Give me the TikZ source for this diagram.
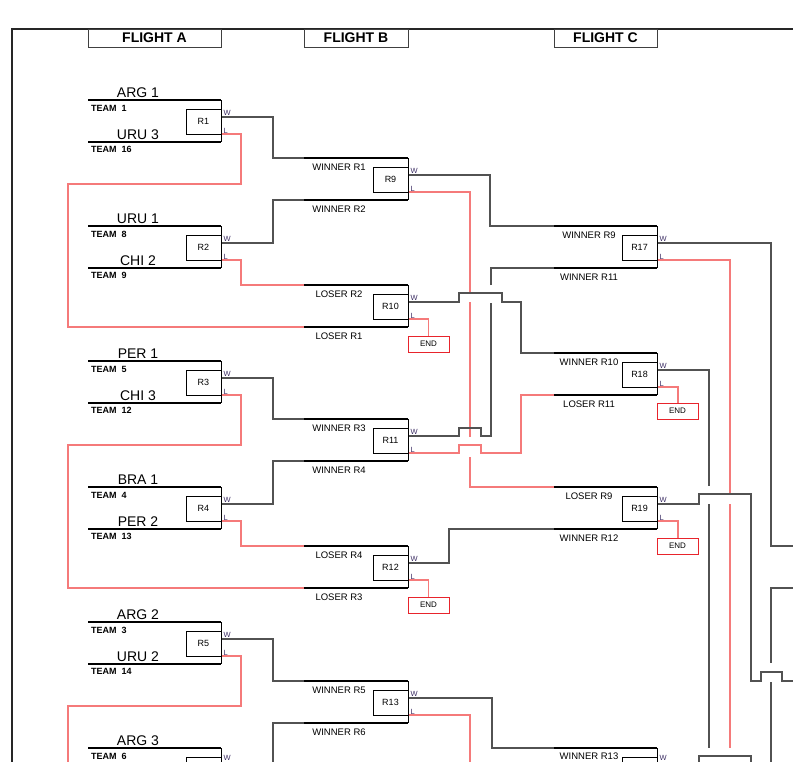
\documentclass[tikz,border=0pt]{standalone}
\usepackage{fontspec}
\setmainfont{Liberation Sans}
\definecolor{lred}{RGB}{245,122,122}
\definecolor{endred}{RGB}{232,36,44}
\definecolor{wlcol}{RGB}{60,45,100}
\tikzset{
  conn/.style={draw=black!68, line width=2pt, line join=miter},
  loser/.style={draw=lred, line width=1.1pt},
  mline/.style={draw=black, line width=2pt},
  rim/.style={draw=black, line width=0.8pt},
  rbox/.style={draw=black, line width=0.8pt, fill=white, inner sep=0pt, outer sep=0pt, minimum width=35pt, minimum height=25pt, font=\fontsize{9}{9}\selectfont},
  wl/.style={inner sep=0pt, font=\fontsize{7.5}{7.5}\selectfont, text=wlcol},
  endbox/.style={draw=endred, line width=1pt, fill=white, inner sep=0pt, outer sep=0pt, minimum width=41pt, minimum height=16pt, font=\fontsize{8}{8}\selectfont},
  tname/.style={inner sep=0pt, font=\fontsize{14}{14}\selectfont},
  tnum/.style={inner sep=0pt, font=\bfseries\fontsize{9}{9}\selectfont},
  mlab/.style={inner sep=0pt, font=\fontsize{9.5}{9.5}\selectfont},
  flight/.style={draw=black!75, line width=0.8pt, fill=white, inner sep=0pt, outer sep=0pt, minimum height=18pt, font=\bfseries\fontsize{14}{14}\selectfont},
}
% match lines and box: #1 name, #2 x left, #3 x right, #4 y top line, #5 label
\newcommand\mtbase[5]{%
  \coordinate (#1-top) at (#2,#4);
  \coordinate (#1-bot) at (#2,#4+42);
  \coordinate (#1-W) at (#3,#4+17);
  \coordinate (#1-L) at (#3,#4+34);
  \draw[rim] (#3,#4) -- (#3,#4+42);
  \draw[mline] (#1-top) -- (#3,#4);
  \draw[mline] (#1-bot) -- (#3,#4+42);
  \node[rbox, anchor=north east] (#1) at (#3,#4+9) {#5};
}
\newcommand\mt[5]{%
  \mtbase{#1}{#2}{#3}{#4}{#5}
  \node[wl, anchor=base west] (#1-w) at (#3+2.5,#4+15) {W};
  \node[wl, anchor=base west] (#1-l) at (#3+2.5,#4+33) {L};
}
% labels for flight B / C: #1 name, #2 x centre, #3 y top, #4 top, #5 bottom
\newcommand\ml[5]{%
  \node[mlab, anchor=base] (#1-a) at (#2,#3+12) {#4};
  \node[mlab, anchor=base] (#1-b) at (#2,#3+54) {#5};
}
% teams of flight A
\newcommand\tm[6]{%
  \node[tname, anchor=base] (#1-n1) at (138,#2-3) {#3};
  \node[tnum, anchor=base west] (#1-t1) at (91,#2+11) {TEAM\ \ #4};
  \node[tname, anchor=base] (#1-n2) at (138,#2+39) {#5};
  \node[tnum, anchor=base west] (#1-t2) at (91,#2+52.5) {TEAM\ \ #6};
}
\begin{document}
\begin{tikzpicture}[x=1pt,y=-1pt]
\useasboundingbox (0,0) rectangle (793,761);
\clip (0,0) rectangle (793,761);
\fill[white] (0,0) rectangle (793,761);

% frame
\draw[line width=1.5pt, black!85] (12,780) -- (12,29) -- (800,29);

% ---------- losers (red) ----------
\coordinate (R1-L) at (221,134);
\coordinate (R2-L) at (221,260);
\coordinate (R3-L) at (221,395);
\coordinate (R4-L) at (221,521);
\coordinate (R5-L) at (221,656);
\coordinate (R10-bot) at (304,327);
\coordinate (R10-top) at (304,285);
\coordinate (R12-bot) at (304,588);
\coordinate (R12-top) at (304,546);
\coordinate (R19-top) at (554,487);
\coordinate (R18-bot) at (554,395);
\draw[loser] (R1-L) -| (241,184) -| (68,327) -- (R10-bot);
\draw[loser] (R2-L) -| (241,285) -- (R10-top);
\draw[loser] (R3-L) -| (241,445) -| (68,588) -- (R12-bot);
\draw[loser] (R4-L) -| (241,546) -- (R12-top);
\draw[loser] (R5-L) -| (241,706) -| (68,780);

\draw[loser] (408,192) -- (470,192) -- (470,294);
\draw[loser] (470,302) -- (470,437);
\draw[loser] (470,457) -- (470,487) -- (R19-top);
\draw[loser] (408,453) -- (459,453) -- (459,445) -- (481,445) -- (481,453) -- (521,453) -- (521,395) -- (R18-bot);
\draw[loser] (408,715) -| (470,780);
\draw[loser] (408,319) -| (428.5,336);
\draw[loser] (408,580) -| (428.5,597);

\draw[loser] (657,260) -| (730,494);
\draw[loser] (730,504) -- (730,748);
\draw[loser] (657,387) -| (678,403);
\draw[loser] (657,521) -| (678,538);

% ---------- winners (grey connectors) ----------
\coordinate (R9-top) at (304,158);
\coordinate (R9-bot) at (304,200);
\coordinate (R11-top) at (304,419);
\coordinate (R11-bot) at (304,461);
\coordinate (R13-top) at (304,681);
\coordinate (R13-bot) at (304,723);
\coordinate (R17-top) at (554,226);
\coordinate (R17-bot) at (554,268);
\coordinate (R18-top) at (554,353);
\coordinate (R19-bot) at (554,529);
\coordinate (R21-top) at (554,748);

\draw[conn] (221,117) -| (273,158) -- (R9-top);
\draw[conn] (221,243) -| (273,200) -- (R9-bot);
\draw[conn] (221,378) -| (273,419) -- (R11-top);
\draw[conn] (221,504) -| (273,461) -- (R11-bot);
\draw[conn] (221,639) -| (273,681) -- (R13-top);
\draw[conn] (221,765) -| (273,723) -- (R13-bot);

\draw[conn] (408,175) -| (490,226) -- (R17-top);
\draw[conn] (408,302) -- (459,302) -- (459,293) -- (502,293) -- (502,302) -- (521,302) -- (521,353) -- (R18-top);
\draw[conn] (408,436) -- (459,436) -- (459,428) -- (481,428) -- (481,436) -- (491,436) -- (491,303);
\draw[conn] (491,285) -- (491,268) -- (R17-bot);
\draw[conn] (408,563) -| (449,529) -- (R19-bot);
\draw[conn] (408,698) -| (492,748) -- (R21-top);

\draw[conn] (657,243) -| (771,546) -- (800,546);
\draw[conn] (657,370) -| (709,486);
\draw[conn] (709,504) -- (709,748);
\draw[conn] (657,504) -- (699,504) -- (699,494) -- (751,494) -- (751,681) -- (761,681) -- (761,672) -- (782,672) -- (782,681) -- (800,681);
\draw[conn] (800,588) -- (771,588) -- (771,663);
\draw[conn] (771,682) -- (771,780);
\draw[conn] (699,780) -- (699,756) -- (751,756) -- (751,780);

% ---------- headers ----------
\node[flight, minimum width=133pt, anchor=north west] (FA) at (88,29) {FLIGHT A};
\node[flight, minimum width=104pt, anchor=north west] (FB) at (304,29) {FLIGHT B};
\node[flight, minimum width=103pt, anchor=north west] (FC) at (554,29) {FLIGHT C};

% ---------- flight A ----------
\mt{R1}{88}{221}{100}{R1}
\mt{R2}{88}{221}{226}{R2}
\mt{R3}{88}{221}{361}{R3}
\mt{R4}{88}{221}{487}{R4}
\mt{R5}{88}{221}{622}{R5}
\mtbase{R6}{88}{221}{748}{}
\node[wl, anchor=base west] (R6-w) at (223.5,760) {W};
\tm{R1}{100}{ARG 1}{1}{URU 3}{16}
\tm{R2}{226}{URU 1}{8}{CHI 2}{9}
\tm{R3}{361}{PER 1}{5}{CHI 3}{12}
\tm{R4}{487}{BRA 1}{4}{PER 2}{13}
\tm{R5}{622}{ARG 2}{3}{URU 2}{14}
\node[tname, anchor=base] (R6-n1) at (138,745) {ARG 3};
\node[tnum, anchor=base west] (R6-t1) at (91,759) {TEAM\ \ 6};

% ---------- flight B ----------
\mt{R9}{304}{408}{158}{R9}
\mt{R10}{304}{408}{285}{R10}
\mt{R11}{304}{408}{419}{R11}
\mt{R12}{304}{408}{546}{R12}
\mt{R13}{304}{408}{681}{R13}
\ml{R9}{339}{158}{WINNER R1}{WINNER R2}
\ml{R10}{339}{285}{LOSER R2}{LOSER R1}
\ml{R11}{339}{419}{WINNER R3}{WINNER R4}
\ml{R12}{339}{546}{LOSER R4}{LOSER R3}
\ml{R13}{339}{681}{WINNER R5}{WINNER R6}
\node[endbox, anchor=north west] (E10) at (408,336) {END};
\node[endbox, anchor=north west] (E12) at (408,597) {END};

% ---------- flight C ----------
\mt{R17}{554}{657}{226}{R17}
\mt{R18}{554}{657}{353}{R18}
\mt{R19}{554}{657}{487}{R19}
\mtbase{R21}{554}{657}{748}{}
\node[wl, anchor=base west] (R21-w) at (659.5,760) {W};
\ml{R17}{589}{226}{WINNER R9}{WINNER R11}
\ml{R18}{589}{353}{WINNER R10}{LOSER R11}
\ml{R19}{589}{487}{LOSER R9}{WINNER R12}
\node[mlab, anchor=base] (R21-a) at (589,759.5) {WINNER R13};
\node[endbox, anchor=north west] (E18) at (657,403) {END};
\node[endbox, anchor=north west] (E19) at (657,538) {END};
\end{tikzpicture}
\end{document}
